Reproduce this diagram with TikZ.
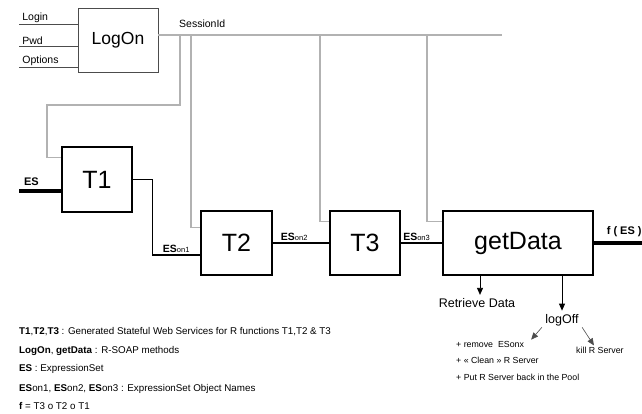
\documentclass[tikz,border=0pt]{standalone}
\usepackage{fontspec}
\setmainfont{Liberation Sans}
\usetikzlibrary{arrows.meta,calc}
\tikzset{
  wsbox/.style={draw, line width=1.6pt, minimum height=64pt, font=\fontsize{25}{26}\selectfont},
  sess/.style={draw=gray!60, line width=1.2pt},
  link/.style={line width=1.3pt},
  esbus/.style={line width=4pt},
  inp/.style={draw=black!70, line width=0.8pt},
  lbl/.style={font=\fontsize{10.5}{12}\selectfont, inner sep=1pt},
  note/.style={font=\fontsize{12.5}{14}\selectfont},
  small/.style={font=\fontsize{8.8}{10}\selectfont, inner sep=1pt},
  legend/.style={font=\fontsize{9.8}{11}\selectfont, inner sep=0pt, anchor=base west}
}
\newcommand{\eson}[1]{\textbf{ES}{\fontsize{7.5}{8}\selectfont on#1}}
\begin{document}
\begin{tikzpicture}[x=1pt, y=-1pt, >={Triangle[length=7pt,width=6pt]}]
  \useasboundingbox (0,0) rectangle (642,414);
  % boxes
  \node[draw=black!70, line width=0.8pt, minimum width=80pt, minimum height=64pt,
        font=\fontsize{17.5}{18}\selectfont] (LogOn) at (118,40) {LogOn};
  \node[wsbox, minimum width=70pt, minimum height=65pt] (T1) at (97,179.5) {T1};
  \node[wsbox, minimum width=71pt] (T2) at (236.5,243) {T2};
  \node[wsbox, minimum width=70pt] (T3) at (365,243) {T3};
  \node[wsbox, minimum width=150pt] (getData) at (518,243) {getData};
  % LogOn inputs
  \foreach \t/\y in {Login/24,Pwd/46,Options/67}
    \draw[inp] (19,\y) coordinate (in-\t) node[lbl, above right, xshift=2pt] {\t} -- (in-\t -| LogOn.west);
  % session id
  \draw[sess] ([yshift=5pt]LogOn.east) -- (502,35) coordinate (busend);
  \node[lbl, anchor=south west] (sid) at (178,29) {SessionId};
  \draw[sess] (180,35) coordinate (bus-T1) |- (47,105) |- ($(T1.north west)+(0,11)$);
  \foreach \x/\n/\d in {191/T2/17,320/T3/11,427/getData/11}
    \draw[sess] (\x,35) coordinate (bus-\n) |- ($(\n.north west)+(0,\d)$);
  % expression sets
  \draw[esbus] (19,191) coordinate (es) node[lbl, font=\fontsize{11}{12}\selectfont\bfseries, above right, xshift=2pt, yshift=2pt] {ES} -- (es -| T1.west);
  \draw[link] (T1.east) -| ($(T2.west)+(-48,12)$) coordinate (j1) -- node[lbl, above, yshift=1pt] {\eson{1}} (j1 -| T2.west);
  \draw[link] (T2.east) -- node[lbl, above, pos=.38, yshift=1pt] {\eson{2}} (T3.west);
  \draw[link] (T3.east) -- node[lbl, above, pos=.38, yshift=1pt] {\eson{3}} (getData.west);
  \draw[esbus] (getData.east) node[lbl, font=\fontsize{11}{12}\selectfont\bfseries, above right, xshift=10pt, yshift=3pt] {f ( ES )} -- (642,243) coordinate (fes);
  % results
  \node[note] (retr) at (477,303) {Retrieve Data};
  \node[note] (logoff) at (562,320) {logOff};
  \draw[->, line width=0.8pt] ([xshift=3pt]retr.north |- getData.south) -- ([xshift=3pt]retr.north);
  \draw[->, line width=0.8pt] (logoff.north |- getData.south) -- (logoff.north);
  \node[small, anchor=base west] (rm) at (455,347) {+ remove\ \ ESonx};
  \node[small, anchor=base west] (clean) at (455,363.5) {+ « Clean » R Server};
  \node[small, anchor=base west] (pool) at (455,380) {+ Put R Server back in the Pool};
  \node[small, anchor=base west] (kill) at (575,353) {kill R Server};
  \draw[->, draw=black!70, line width=0.6pt] (logoff.-160) -- ([xshift=6pt]rm.north east);
  \draw[->, draw=black!70, line width=0.6pt] (logoff.-20) -- ([xshift=-6pt]kill.north);
  % legend
  \foreach \y/\t in {334/{\textbf{T1},\textbf{T2},\textbf{T3} : Generated Stateful Web Services for R functions T1,T2 \& T3},
                     353/{\textbf{LogOn}, \textbf{getData} : R-SOAP methods},
                     371/{\textbf{ES} : ExpressionSet},
                     391/{\textbf{ES}on1, \textbf{ES}on2, \textbf{ES}on3 : ExpressionSet Object Names},
                     409/{\textbf{f} = T3 o T2 o T1}}
    \node[legend] at (19,\y) {\t};
\end{tikzpicture}
\end{document}
